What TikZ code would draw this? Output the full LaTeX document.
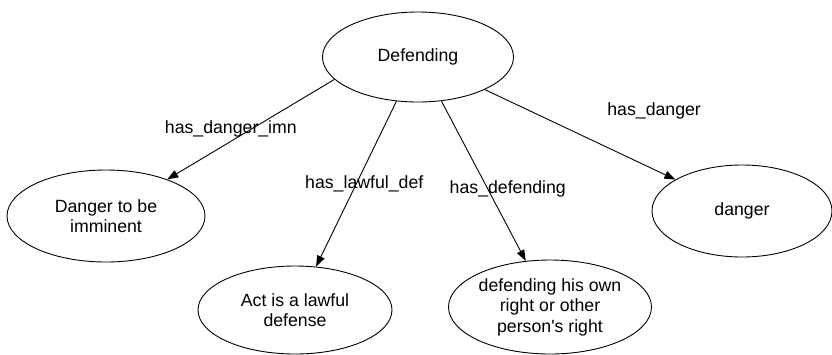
\documentclass[tikz,border=0pt]{standalone}
\usepackage{fontspec}
\setmainfont{Liberation Sans}
\usepackage{tikz}
\usetikzlibrary{arrows.meta, positioning, shapes.geometric}

\begin{document}
\begin{tikzpicture}[x=1pt, y=-1pt,
    font=\fontsize{17.7}{20.5}\selectfont,
    oval/.style={ellipse, draw, line width=0.9pt, align=center, inner sep=0pt},
    rel/.style={-{Triangle[length=11pt, width=8pt]}, line width=0.9pt}]
    \useasboundingbox (0,0) rectangle (832,354);

    % Node for the main concept
    \node (defending) [oval, minimum width=191pt, minimum height=90pt] at (418,57) {Defending};

    % Nodes for the related concepts
    \node (imminent) [oval, minimum width=198pt, minimum height=92pt] at (106,216) {Danger to be\\imminent};
    \node (lawful) [oval, minimum width=194pt, minimum height=88pt] at (295,310) {Act is a lawful\\defense};
    \node (right) [oval, minimum width=203pt, minimum height=94pt, inner xsep=-7pt] at (550,307) {defending his own\\right or other\\person\textquotesingle s right};
    \node (danger) [oval, minimum width=180pt, minimum height=92pt] at (742,211) {danger};

    % Arrows for the relations
    \draw[rel] (defending.195) -- node[pos=0.5, xshift=-20pt] {has\_danger\_imn} (imminent);
    \draw[rel] (defending.244) -- node[pos=0.5, xshift=8pt] {has\_lawful\_def} (lawful);
    \draw[rel] (defending.298) -- node[pos=0.55, xshift=20pt] {has\_defending} (right);
    \draw[rel] (defending.334) -- node[pos=0.5, xshift=74pt, yshift=24pt] {has\_danger} (danger);
\end{tikzpicture}
\end{document}
